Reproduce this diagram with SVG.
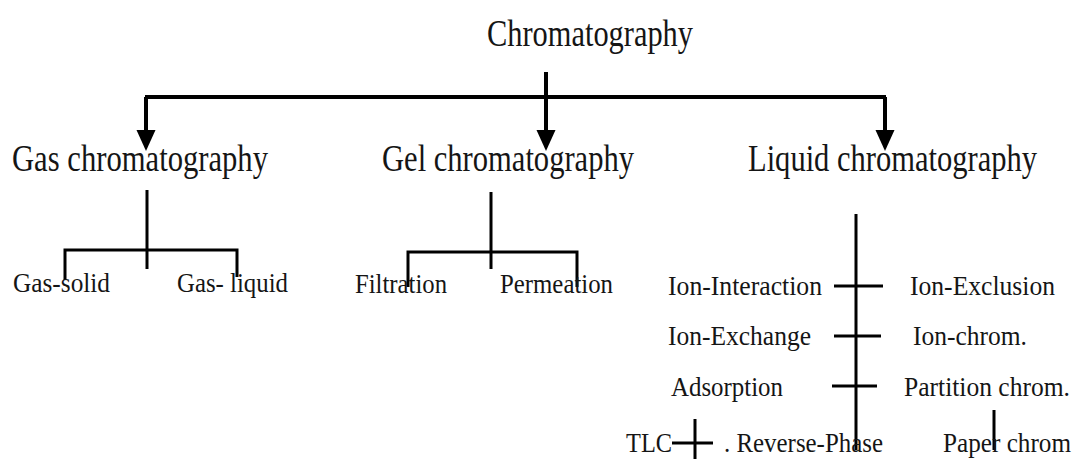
<svg xmlns="http://www.w3.org/2000/svg" width="1073" height="459" viewBox="0 0 1073 459">
<style>
  .big { font-family: "Liberation Serif", "Times New Roman", serif; font-size: 37px; fill: #151515; }
  .small { font-family: "Liberation Serif", "Times New Roman", serif; font-size: 27px; fill: #151515; }
  .thick { stroke: #000; stroke-width: 4; fill: none; }
  .thin { stroke: #000; stroke-width: 3; fill: none; }
</style>
<defs>
  <marker id="arr" markerUnits="userSpaceOnUse" markerWidth="24" markerHeight="22" refX="0" refY="11" orient="auto" viewBox="0 0 24 22">
    <path d="M0,1.5 L21,11 L0,20.5 z" fill="#000"/>
  </marker>
</defs>
<rect width="1073" height="459" fill="#fff"/>

<g id="connectors">
  <path class="thick" d="M145,97 H886"/>
  <path class="thick" d="M146,97 V130" marker-end="url(#arr)"/>
  <path class="thick" d="M546,72 V130" marker-end="url(#arr)"/>
  <path class="thick" d="M885,97 V130" marker-end="url(#arr)"/>
  <path class="thin" d="M147,190 V269 M65,280 V250 H237 V277"/>
  <path class="thin" d="M491,192 V269 M408,287 V252 H577 V287"/>
  <path class="thin" d="M856,214 V450 M834,286 H883 M834,336 H881 M832,386 H877"/>
  <path class="thin" d="M672,443 H713 M695,419 V459"/>
  <path class="thin" d="M994,410 V450"/>
</g>

<g id="n-chromatography"><text class="big" x="487" y="46" textLength="206" lengthAdjust="spacingAndGlyphs">Chromatography</text></g>
<g id="n-gas"><text class="big" x="12" y="171" textLength="256" lengthAdjust="spacingAndGlyphs">Gas chromatography</text></g>
<g id="n-gel"><text class="big" x="382" y="171" textLength="252" lengthAdjust="spacingAndGlyphs">Gel chromatography</text></g>
<g id="n-liquid"><text class="big" x="748" y="171" textLength="289" lengthAdjust="spacingAndGlyphs">Liquid chromatography</text></g>

<g id="n-gas-solid"><text class="small" x="13" y="292" textLength="97" lengthAdjust="spacingAndGlyphs">Gas-solid</text></g>
<g id="n-gas-liquid"><text class="small" x="177" y="292" textLength="111" lengthAdjust="spacingAndGlyphs">Gas- liquid</text></g>
<g id="n-filtration"><text class="small" x="355" y="293" textLength="92" lengthAdjust="spacingAndGlyphs">Filtration</text></g>
<g id="n-permeation"><text class="small" x="500" y="293" textLength="113" lengthAdjust="spacingAndGlyphs">Permeation</text></g>

<g id="n-ion-interaction"><text class="small" x="668" y="295" textLength="154" lengthAdjust="spacingAndGlyphs">Ion-Interaction</text></g>
<g id="n-ion-exclusion"><text class="small" x="910" y="295" textLength="145" lengthAdjust="spacingAndGlyphs">Ion-Exclusion</text></g>
<g id="n-ion-exchange"><text class="small" x="668" y="345" textLength="143" lengthAdjust="spacingAndGlyphs">Ion-Exchange</text></g>
<g id="n-ion-chrom"><text class="small" x="913" y="345" textLength="114" lengthAdjust="spacingAndGlyphs">Ion-chrom.</text></g>
<g id="n-adsorption"><text class="small" x="671" y="396" textLength="112" lengthAdjust="spacingAndGlyphs">Adsorption</text></g>
<g id="n-partition"><text class="small" x="904" y="396" textLength="166" lengthAdjust="spacingAndGlyphs">Partition chrom.</text></g>
<g id="n-tlc"><text class="small" x="626" y="452" textLength="46" lengthAdjust="spacingAndGlyphs">TLC</text></g>
<g id="n-reverse-phase"><text class="small" x="724" y="452" textLength="159" lengthAdjust="spacingAndGlyphs">. Reverse-Phase</text></g>
<g id="n-paper"><text class="small" x="943" y="452" textLength="128" lengthAdjust="spacingAndGlyphs">Paper chrom</text></g>
</svg>
